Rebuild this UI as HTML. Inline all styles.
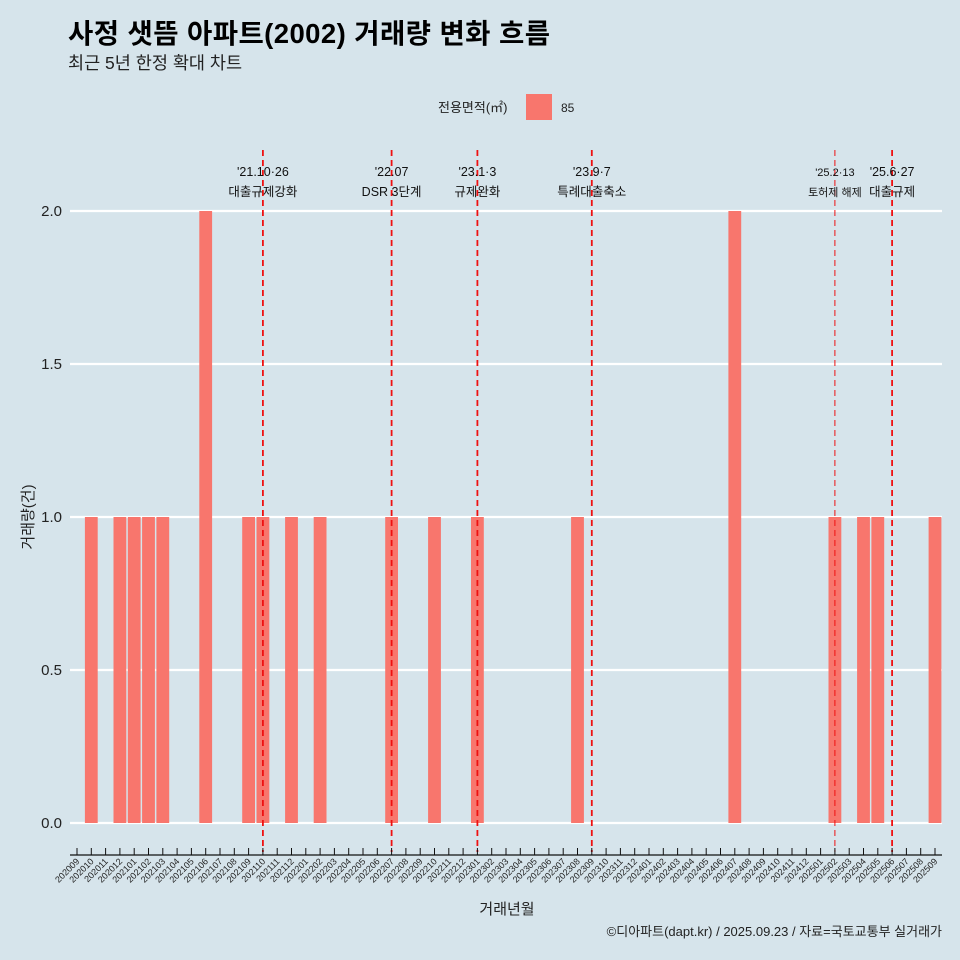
<!DOCTYPE html>
<html><head><meta charset="utf-8"><style>
body{margin:0;background:#d6e4eb;}
svg{display:block;font-family:"Liberation Sans","Noto Sans CJK KR",sans-serif;}
</style></head><body>
<svg id="c" width="960" height="960">
<rect width="960" height="960" fill="#d6e4eb"/>
<text x="68" y="43" font-size="27.5" font-weight="bold" fill="#000" textLength="482">사정 샛뜸 아파트(2002) 거래량 변화 흐름</text>
<text x="68" y="69" font-size="17.5" fill="#222">최근 5년 한정 확대 차트</text>
<g>
<text x="438" y="112" font-size="13" fill="#222">전용면적(㎡)</text>
<rect x="526" y="94" width="26" height="26" fill="#f8766d"/>
<text x="561" y="112" font-size="12" fill="#222">85</text>
</g>
<g id="grid"></g><g id="bars"></g><g id="events"></g><g id="axes"></g>
<text x="507" y="914" font-size="15" text-anchor="middle" fill="#222">거래년월</text>
<text transform="translate(33,517) rotate(-90)" font-size="15" text-anchor="middle" fill="#222">거래량(건)</text>
<text x="942" y="936" font-size="13" text-anchor="end" fill="#222">©디아파트(dapt.kr) / 2025.09.23 / 자료=국토교통부 실거래가</text>
</svg>
<script>
const months=[];
for(let y=2020,m=9;months.length<61;){months.push(y+String(m).padStart(2,'0'));m++;if(m>12){m=1;y++;}}
const barMonths=['202010','202012','202101','202102','202103','202106','202109','202110','202112','202202','202207','202210','202301','202308','202407','202502','202504','202505','202509'];
const barValues=[1,1,1,1,1,2,1,1,1,1,1,1,1,1,2,1,1,1,1];
const yTicks=[0,0.5,1,1.5,2];
const yTickLabels=['0.0','0.5','1.0','1.5','2.0'];
const eventMonths=['202110','202207','202301','202309','202502','202506'];
const eventDates=["'21.10·26","'22.07","'23.1·3","'23.9·7","'25.2·13","'25.6·27"];
const eventLabels=['대출규제강화','DSR 3단계','규제완화','특례대출축소','토허제 해제','대출규제'];
const NS='http://www.w3.org/2000/svg';
const x=m=>77+months.indexOf(m)*14.3;
const y=v=>823-v*306;
function mk(t,a,p){const e=document.createElementNS(NS,t);for(const k in a)e.setAttribute(k,a[k]);document.getElementById(p).appendChild(e);return e;}
yTicks.forEach((v,i)=>{
 const g=mk('line',{x1:70,x2:942,y1:y(v),y2:y(v),stroke:'#fff','stroke-width':2.2},'grid');
 
 
 const t=mk('text',{x:62,y:y(v)+5,'font-size':15,'text-anchor':'end',fill:'#222'},'axes');
 t.textContent=yTickLabels[i];
 
 
});
barMonths.forEach((m,i)=>{
 const b=mk('rect',{x:x(m)-6.4,y:y(barValues[i]),width:12.8,height:y(0)-y(barValues[i]),fill:'#f8766d'},'bars');
 
 
});
eventMonths.forEach((m,i)=>{
 const thin=m==='202502';
 const l=mk('line',{x1:x(m),x2:x(m),y1:150,y2:852,stroke:'#ee1111','stroke-width':thin?1:1.8,'stroke-dasharray':'6,4'},'events');
 
 
 const fs=thin?11:12.5;
 const t1=mk('text',{x:x(m),y:176,'font-size':fs,'text-anchor':'middle',fill:'#111'},'events');
 t1.textContent=eventDates[i];
 
 
 const t2=mk('text',{x:x(m),y:196,'font-size':fs,'text-anchor':'middle',fill:'#111'},'events');
 t2.textContent=eventLabels[i];
 
 
});
const ax=mk('line',{x1:70,x2:942,y1:855,y2:855,stroke:'#111','stroke-width':1.2},'axes');


months.forEach(m=>{
 const tk=mk('line',{x1:x(m),x2:x(m),y1:848,y2:855,stroke:'#111'},'axes');
 
 
 const t=mk('text',{x:x(m)+3,y:862,'font-size':9,'text-anchor':'end',fill:'#222',transform:`rotate(-45 ${x(m)+3} 862)`},'axes');
 t.textContent=m;
 
 
});
</script>
</body></html>
